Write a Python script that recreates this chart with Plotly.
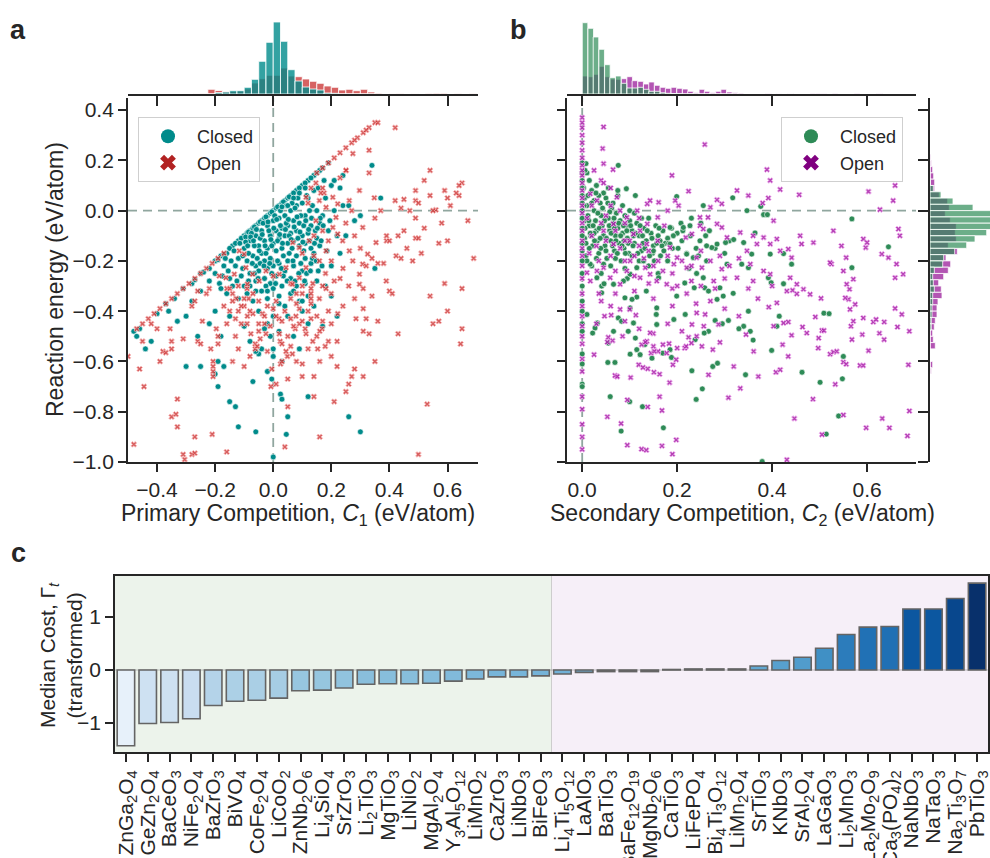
import plotly.graph_objects as go
from plotly.colors import sample_colorscale, sequential

# ---------------- DATA ----------------
# Panel a: (C1, reaction energy) for closed and open systems
A_CLOSED = [
    [-0.46,-0.47],[-0.4,-0.41],[-0.37,-0.37],[-0.34,-0.35],[-0.31,-0.31],[-0.28,-0.29],[-0.25,-0.25],[-0.22,-0.23],
    [-0.2,-0.2],[-0.18,-0.18],[-0.16,-0.17],[-0.14,-0.14],[-0.12,-0.12],[-0.1,-0.1],[-0.09,-0.09],[-0.08,-0.08],
    [-0.07,-0.07],[-0.06,-0.06],[-0.05,-0.05],[-0.04,-0.04],[-0.03,-0.03],[-0.02,-0.02],[-0.01,-0.01],[0.0,0.0],
    [0.01,0.01],[0.02,0.02],[0.03,0.03],[0.04,0.04],[0.05,0.05],[0.06,0.06],[0.08,0.08],[0.1,0.1],[0.12,0.12],
    [0.14,0.14],[0.16,0.16],[0.19,0.19],
    [-0.15,-0.15],[-0.13,-0.13],[-0.11,-0.11],[-0.085,-0.085],[-0.065,-0.065],[-0.045,-0.045],[-0.025,-0.025],
    [-0.005,-0.005],[0.015,0.015],[0.035,0.035],[0.055,0.055],[0.07,0.07],[0.09,0.09],[0.11,0.11],[0.13,0.13],
    [0.15,0.15],[0.17,0.17],[-0.17,-0.175],[-0.19,-0.195],[-0.24,-0.245],[-0.27,-0.275],
    [-0.1,-0.15],[-0.08,-0.12],[-0.06,-0.1],[-0.05,-0.14],[-0.04,-0.08],[-0.03,-0.12],[-0.02,-0.06],[-0.01,-0.1],
    [0.0,-0.04],[0.01,-0.08],[0.02,-0.03],[0.03,-0.07],[0.04,-0.02],[0.05,-0.06],[0.06,0.0],[0.07,-0.04],[0.08,0.02],
    [0.09,-0.05],[0.1,0.03],[0.11,-0.02],[0.12,0.05],[0.13,-0.06],[0.14,0.08],[0.15,0.0],
    [-0.09,-0.2],[-0.07,-0.18],[-0.06,-0.22],[-0.04,-0.17],[-0.03,-0.2],[-0.02,-0.15],[-0.01,-0.19],[0.0,-0.13],
    [0.01,-0.16],[0.02,-0.11],[0.03,-0.15],[0.04,-0.1],[0.05,-0.13],[0.06,-0.09],[0.07,-0.12],[0.08,-0.08],
    [0.09,-0.14],[0.1,-0.1],[0.11,-0.13],[0.12,-0.09],[0.13,-0.15],[0.15,-0.11],[0.16,-0.05],[0.17,-0.02],
    [0.18,0.05],[0.2,0.1],
    [-0.11,-0.26],[-0.1,-0.3],[-0.08,-0.25],[-0.06,-0.28],[-0.05,-0.24],[-0.03,-0.27],[-0.02,-0.23],[-0.01,-0.29],
    [0.0,-0.22],[0.01,-0.26],[0.02,-0.21],[0.03,-0.3],[0.04,-0.24],[0.05,-0.2],[0.06,-0.27],[0.07,-0.22],
    [0.08,-0.18],[0.1,-0.24],[0.11,-0.19],[0.13,-0.21],[0.14,-0.17],[0.16,-0.14],
    [-0.13,-0.22],[-0.12,-0.19],[-0.14,-0.3],[-0.15,-0.27],[-0.16,-0.33],[-0.12,-0.35],[-0.09,-0.33],[-0.07,-0.36],
    [-0.04,-0.32],[-0.02,-0.35],[0.0,-0.31],[0.02,-0.34],[0.04,-0.38],[0.06,-0.33],[0.08,-0.3],[0.09,-0.36],
    [0.11,-0.29],[0.12,-0.34],[0.15,-0.28],
    [-0.095,-0.105],[-0.085,-0.17],[-0.075,-0.09],[-0.065,-0.14],[-0.055,-0.19],[-0.045,-0.11],[-0.035,-0.05],
    [-0.025,-0.17],[-0.015,-0.08],[-0.005,-0.14],[0.005,-0.02],[0.015,-0.12],[0.025,-0.06],[0.035,-0.18],
    [0.045,-0.05],[0.055,-0.1],[0.065,-0.15],[0.075,0.01],[0.085,-0.11],[0.095,-0.02],[0.105,-0.16],[0.115,0.06],
    [0.125,-0.12],[0.135,0.02],[0.145,-0.08],[0.155,0.09],[0.165,-0.12],[0.175,0.12],
    [-0.105,-0.23],[-0.085,-0.28],[-0.065,-0.25],[-0.045,-0.21],[-0.025,-0.3],[-0.005,-0.25],[0.015,-0.2],
    [0.035,-0.26],[0.055,-0.17],[0.075,-0.28],[0.095,-0.21],[0.115,-0.25],[0.135,-0.19],[0.155,-0.24],
    [0.105,-0.06],[0.125,0.0],[0.085,0.05],[0.045,0.02],[0.065,0.03],[0.025,0.0],[-0.115,-0.13],[-0.105,-0.18],
    [-0.125,-0.28],[-0.135,-0.16],[-0.145,-0.2],[-0.155,-0.24],[-0.165,-0.19],[-0.175,-0.26],[-0.185,-0.29],
    [-0.095,-0.125],[-0.088,-0.14],[-0.078,-0.105],[-0.068,-0.12],[-0.058,-0.075],[-0.048,-0.16],[-0.038,-0.095],
    [-0.028,-0.14],[-0.018,-0.045],[-0.008,-0.115],[0.002,-0.07],[0.012,-0.035],[0.022,-0.095],[0.032,-0.13],
    [0.042,-0.075],[0.052,-0.035],[0.062,-0.115],[0.072,-0.065],[0.082,-0.025],[0.092,-0.085],[0.102,-0.125],
    [0.112,-0.04],[0.122,-0.075],[0.132,-0.03],[0.142,-0.13],[0.152,-0.07],[0.162,-0.03],[0.172,-0.06],
    [0.05,0.02],[0.07,0.05],[0.09,0.07],[0.11,0.09],[0.03,0.015],[-0.072,-0.21],[-0.052,-0.27],[-0.032,-0.22],
    [-0.012,-0.21],[0.008,-0.29],[0.028,-0.23],[0.048,-0.28],[0.068,-0.2],[0.088,-0.25],[0.108,-0.28],
    [0.128,-0.24],[0.148,-0.2],[0.168,-0.22],[0.185,-0.16],[0.195,-0.04],[-0.08,-0.3],[-0.06,-0.32],
    [-0.02,-0.32],[0.02,-0.37],[0.07,-0.32],[0.1,-0.36],
    [-0.05,-0.4],[0.0,-0.42],[-0.02,-0.45],[0.05,-0.42],[0.1,-0.4],[0.14,-0.38],[0.18,-0.3],[0.2,-0.22],
    [0.22,-0.1],[0.19,-0.08],[0.21,0.0],[0.24,0.02],[0.23,-0.17],
    [-0.25,-0.32],[-0.28,-0.36],[-0.22,-0.28],[-0.3,-0.42],[-0.33,-0.44],[-0.36,-0.4],[-0.42,-0.52],[-0.44,-0.55],
    [-0.2,-0.25],[-0.18,-0.31],[-0.17,-0.22],[-0.2,-0.4],[-0.22,-0.45],[-0.15,-0.42],[-0.18,-0.5],[-0.26,-0.5],
    [-0.25,-0.62],[-0.19,-0.6],[-0.2,-0.65],[-0.17,-0.62],[-0.19,-0.7],[-0.15,-0.76],[-0.13,-0.78],[-0.12,-0.86],
    [-0.06,-0.88],[-0.07,-0.68],[-0.02,-0.64],[-0.005,-0.67],[0.0,-0.55],[0.0,-0.58],[-0.01,-0.5],[-0.05,-0.57],
    [-0.06,-0.56],[-0.04,-0.55],[0.02,-0.48],[0.03,-0.6],[0.025,-0.73],[0.03,-0.75],[0.05,-0.82],[0.045,-0.89],
    [0.0,-0.98],[0.12,-0.74],[0.26,-0.82],[0.3,-0.88],[0.07,-0.5],[0.12,-0.45],[0.09,-0.55],[-0.08,-0.52],
    [-0.1,-0.46],[-0.03,-0.47],[-0.48,-0.48],[-0.47,-0.5],[-0.3,-0.62],
    [0.34,0.18],[0.37,0.05],[0.35,-0.23],[0.3,-0.02],[0.28,-0.04],[0.26,0.02],[0.23,0.09],[0.25,-0.1],
    [0.2,-0.34],[0.22,-0.42],[0.17,-0.46],[0.24,0.14],[0.21,0.12],
]
A_OPEN = [
    [-0.47,-0.47],[-0.45,-0.45],[-0.43,-0.43],[-0.41,-0.41],[-0.39,-0.39],[-0.37,-0.37],[-0.35,-0.35],[-0.33,-0.33],
    [-0.31,-0.31],[-0.29,-0.29],[-0.27,-0.27],[-0.25,-0.25],[-0.23,-0.23],[-0.21,-0.21],[-0.19,-0.19],[-0.17,-0.17],
    [0.15,0.15],[0.17,0.17],[0.19,0.19],[0.21,0.21],[0.23,0.23],[0.25,0.25],[0.27,0.27],[0.29,0.29],[0.31,0.31],
    [0.33,0.33],[0.35,0.35],[0.36,0.35],[0.28,0.28],[0.32,0.32],
    [0.42,0.33],[0.33,0.24],[0.25,0.16],[0.33,0.15],[0.54,0.16],[0.52,0.12],[0.65,0.11],[0.64,0.1],[0.59,0.08],
    [0.49,0.04],[0.42,0.04],[0.45,0.045],[0.47,0.0],[0.56,0.003],[0.5,0.03],[0.61,0.02],[0.67,-0.04],[0.58,-0.05],
    [0.49,-0.03],[0.52,-0.07],[0.45,-0.08],[0.49,-0.11],[0.5,-0.11],[0.43,-0.1],[0.46,-0.15],[0.51,-0.17],
    [0.39,-0.1],[0.39,-0.12],[0.35,-0.03],[0.36,-0.21],[0.38,-0.21],[0.44,-0.19],[0.69,-0.19],[0.59,-0.29],
    [0.65,-0.31],[0.49,0.08],[0.54,0.06],[0.64,0.06],[0.6,0.05],[0.63,0.07],[0.55,0.0],[0.44,0.01],[0.57,-0.13],
    [0.48,-0.2],[0.6,-0.12],
    [0.54,-0.34],[0.6,-0.4],[0.57,-0.44],[0.55,-0.45],[0.65,-0.47],[0.645,-0.53],[0.43,-0.49],[0.53,-0.77],
    [0.5,-0.97],[0.4,-0.32],[0.41,-0.33],[0.36,-0.44],[0.35,-0.6],[0.33,-0.49],[0.31,-0.48],[0.32,-0.43],
    [0.285,-0.43],[0.28,-0.35],[0.31,-0.39],[0.34,-0.34],[0.31,-0.66],[0.27,-0.66],[0.28,-0.63],[0.26,-0.69],
    [0.25,-0.72],[0.22,-0.62],[0.21,-0.76],[0.22,-0.52],[0.16,-0.9],[0.14,-0.74],[0.1,-0.66],[0.1,-0.61],
    [0.05,-0.78],[0.04,-0.94],[0.01,-0.69],[-0.008,-0.7],[-0.005,-0.63],[0.025,-0.61],[0.03,-0.6],
    [-0.46,-0.63],[-0.45,-0.52],[-0.445,-0.7],[-0.48,-0.93],[-0.33,-0.75],[-0.35,-0.82],[-0.335,-0.81],
    [-0.33,-0.86],[-0.27,-0.9],[-0.31,-0.97],[-0.305,-0.99],[-0.28,-0.97],[-0.27,-0.965],[-0.21,-0.89],
    [-0.16,-0.96],[-0.39,-0.6],[-0.38,-0.56],[-0.37,-0.565],[-0.35,-0.55],[-0.355,-0.47],[-0.35,-0.52],
    [-0.31,-0.51],[-0.26,-0.52],[-0.25,-0.53],[-0.215,-0.55],[-0.207,-0.6],[-0.207,-0.62],[-0.207,-0.64],
    [-0.207,-0.66],[-0.19,-0.53],[-0.19,-0.5],[-0.196,-0.47],[-0.244,-0.44],[-0.27,-0.36],[-0.28,-0.38],
    [-0.26,-0.32],[-0.23,-0.33],[-0.22,-0.31],[-0.5,-0.58],[-0.42,-0.45],[-0.4,-0.47],
    [-0.16,-0.31],[-0.15,-0.31],[-0.127,-0.35],[-0.09,-0.31],[-0.085,-0.35],[-0.089,-0.42],[-0.077,-0.49],
    [-0.062,-0.53],[-0.062,-0.55],[-0.055,-0.54],[-0.045,-0.51],[-0.025,-0.49],[-0.05,-0.45],[-0.03,-0.45],
    [-0.037,-0.41],[-0.02,-0.38],[0.0,-0.39],[0.021,-0.49],[0.024,-0.52],[0.044,-0.56],[0.049,-0.58],
    [0.066,-0.57],[0.06,-0.54],[0.076,-0.47],[0.09,-0.45],[0.1,-0.44],[0.113,-0.49],[0.136,-0.52],[0.153,-0.55],
    [0.179,-0.54],[0.19,-0.52],[0.136,-0.29],[0.13,-0.31],[0.13,-0.33],[0.13,-0.35],[0.13,-0.37],[0.159,-0.35],
    [0.182,-0.31],[0.2,-0.33],[0.222,-0.41],[0.168,-0.47],[0.16,-0.48],[0.078,-0.42],[0.06,-0.43],[0.04,-0.4],
    [0.02,-0.43],[0.01,-0.42],[-0.1,-0.38],[-0.12,-0.4],[-0.14,-0.36],[-0.11,-0.45],[-0.13,-0.5],[-0.16,-0.45],
    [-0.17,-0.38],[-0.05,-0.36],[-0.07,-0.33],[0.06,-0.35],[0.08,-0.37],[0.1,-0.33],[0.12,-0.4],[0.15,-0.42],
    [0.19,-0.4],[0.2,-0.45],[0.24,-0.38],[0.26,-0.3],[0.23,-0.27],
    [-0.15,-0.4],[-0.13,-0.43],[-0.11,-0.38],[-0.09,-0.45],[-0.07,-0.41],[-0.05,-0.48],[-0.03,-0.42],[-0.01,-0.46],
    [0.01,-0.36],[0.03,-0.44],[0.05,-0.5],[0.07,-0.46],[0.09,-0.39],[0.11,-0.47],[0.13,-0.43],[0.15,-0.5],
    [0.17,-0.44],[0.1,-0.3],[0.08,-0.33],[0.06,-0.29],[0.17,-0.3],[0.21,-0.28],[0.18,-0.25],[-0.12,-0.3],
    [-0.14,-0.33],[-0.1,-0.35],[-0.08,-0.4],[0.12,-0.55],[0.08,-0.6],[0.03,-0.53],[-0.02,-0.56],[-0.08,-0.58],
    [-0.12,-0.55],[0.16,-0.6],[0.2,-0.58],[0.14,-0.66],[-0.1,-0.62],[-0.14,-0.6],[0.05,-0.67],
    [0.13,0.09],[0.147,0.11],[0.17,0.09],[0.175,0.07],[0.164,0.07],[0.159,0.04],[0.182,0.013],[0.205,0.053],
    [0.222,0.027],[0.216,-0.027],[0.205,-0.067],[0.222,-0.093],[0.239,-0.12],[0.262,-0.16],[0.274,-0.2],
    [0.297,-0.253],[0.308,-0.213],[0.325,-0.173],[0.34,-0.19],[0.32,-0.22],[0.182,-0.16],[0.159,-0.2],
    [0.14,-0.18],[0.113,-0.227],[0.09,-0.267],[0.066,-0.293],[0.044,-0.227],[0.021,-0.253],[0.0,-0.26],
    [-0.025,-0.24],[-0.048,-0.28],[-0.071,-0.253],[-0.089,-0.293],[-0.094,-0.227],[-0.1,-0.173],[-0.117,-0.16],
    [-0.134,-0.253],[-0.163,-0.267],[-0.186,-0.26],[0.113,0.053],[0.12,0.03],[0.147,-0.04],[0.17,-0.08],
    [0.124,-0.12],[0.09,-0.147],[0.1,-0.17],[0.14,-0.1],[0.067,-0.127],[0.251,0.16],[0.274,0.227],[0.23,0.13],
    [0.297,0.08],[0.262,0.04],[0.348,0.051],[0.37,0.0],[0.308,-0.067],[0.354,-0.127],[0.4,-0.12],[0.423,-0.18],
    [0.389,-0.28],[0.297,-0.293],[0.31,-0.31],[0.28,-0.1],[0.25,-0.05],[0.27,0.0],[0.3,-0.15],[0.2,-0.2],
    [0.19,-0.12],[0.24,-0.23],
]

# Panel b: (C2, reaction energy)
B_CLOSED = [
    [0.005,0.05],[0.01,0.02],[0.012,-0.02],[0.015,-0.06],[0.018,-0.1],[0.02,0.08],[0.022,-0.14],[0.025,0.0],
    [0.028,-0.04],[0.03,-0.08],[0.032,-0.12],[0.035,-0.17],[0.038,0.03],[0.04,-0.02],[0.042,-0.06],[0.045,-0.1],
    [0.048,-0.14],[0.05,0.05],[0.052,-0.19],[0.055,-0.03],[0.058,-0.08],[0.06,-0.12],[0.062,0.01],[0.065,-0.05],
    [0.068,-0.16],[0.07,-0.1],[0.072,-0.01],[0.075,-0.07],[0.078,-0.13],[0.08,-0.04],[0.082,-0.2],[0.085,-0.09],
    [0.088,-0.15],[0.09,-0.02],[0.092,-0.06],[0.095,-0.11],[0.098,-0.17],[0.1,-0.04],[0.105,-0.08],[0.11,-0.13],
    [0.115,-0.05],[0.12,-0.1],[0.125,-0.16],[0.13,-0.07],[0.135,-0.12],[0.14,-0.03],[0.145,-0.09],[0.15,-0.14],
    [0.155,-0.06],[0.16,-0.1],[0.165,-0.18],[0.17,-0.08],[0.175,-0.13],[0.18,-0.11],[0.19,-0.15],[0.2,-0.09],
    [0.21,-0.12],[0.22,-0.17],[0.015,0.12],[0.03,0.1],[0.01,0.15],[0.02,-0.22],[0.04,-0.25],[0.06,-0.22],
    [0.008,-0.18],[0.045,0.07],[0.065,0.03],[0.085,0.02],[0.1,0.0],[0.11,-0.01],[0.075,0.06],[0.055,0.09],
    [0.035,0.06],[0.025,-0.09],[0.015,-0.15],[0.005,-0.11],[0.005,-0.04],[0.003,0.09],[0.03,-0.19],[0.05,-0.16],
    [0.07,-0.19],[0.09,-0.23],[0.12,-0.2],[0.14,-0.22],[0.16,-0.25],[0.18,-0.2],[0.105,-0.18],[0.125,-0.03],
    [0.095,-0.27],[0.025,0.04],[0.058,-0.005],[0.038,-0.11],[0.068,-0.07],[0.088,-0.12],[0.108,-0.1],
    [0.128,-0.13],[0.148,-0.17],[0.168,-0.14],[0.188,-0.07],[0.208,-0.05],[0.228,-0.1],[0.248,-0.12],
    [0.268,-0.08],[0.245,-0.18],[0.225,-0.23],[0.262,-0.2],[0.28,-0.15],[0.3,-0.17],[0.31,-0.12],
    [0.004,0.02],[0.006,-0.07],[0.008,-0.13],[0.012,0.06],[0.014,-0.04],[0.017,-0.09],[0.02,0.03],[0.023,-0.06],
    [0.026,-0.12],[0.029,0.07],[0.033,-0.01],[0.036,-0.07],[0.039,-0.15],[0.043,0.01],[0.047,-0.04],[0.051,-0.11],
    [0.054,0.03],[0.057,-0.06],[0.061,-0.09],[0.064,-0.14],[0.067,-0.03],[0.071,-0.12],[0.074,-0.17],
    [0.077,-0.05],[0.081,-0.1],[0.084,-0.14],[0.087,-0.06],[0.091,-0.17],[0.094,-0.08],[0.097,-0.13],
    [0.102,-0.06],[0.107,-0.14],[0.112,-0.09],[0.117,-0.17],[0.122,-0.06],[0.127,-0.1],[0.132,-0.15],
    [0.137,-0.08],[0.142,-0.18],[0.147,-0.11],[0.152,-0.2],[0.157,-0.13],[0.162,-0.07],[0.172,-0.16],
    [0.182,-0.13],[0.192,-0.1],[0.202,-0.15],[0.212,-0.08],[0.24,-0.15],[0.26,-0.1],[0.25,-0.05],[0.23,-0.03],
    [0.076,0.18],[0.008,0.187],[0.006,0.16],[0.112,0.06],[0.093,0.087],[0.075,0.08],[0.199,0.056],[0.255,0.02],
    [0.317,0.051],[0.347,0.0],[0.376,0.017],[0.382,-0.016],[0.39,-0.016],[0.568,-0.033],[0.645,-0.144],
    [0.568,-0.227],[0.424,-0.291],[0.364,-0.089],[0.34,-0.127],[0.319,-0.115],[0.302,-0.127],[0.284,-0.133],
    [0.273,-0.147],[0.262,-0.14],[0.305,-0.213],[0.336,-0.213],[0.357,-0.173],[0.396,-0.173],[0.392,-0.267],
    [0.441,-0.213],[0.424,-0.171],[0.255,-0.267],[0.241,-0.25],[0.234,-0.187],[0.22,-0.173],[0.213,-0.067],
    [0.227,-0.06],[0.185,-0.067],[0.164,-0.12],[0.185,-0.133],[0.15,-0.16],[0.129,-0.2],[0.115,-0.227],
    [0.101,-0.253],[0.087,-0.28],[0.066,-0.293],[0.041,-0.3],[0.031,-0.267],[0.045,-0.213],[0.017,-0.213],
    [0.01,-0.2],[0.161,-0.267],[0.216,-0.288],[0.258,-0.307],[0.29,-0.307],[0.35,-0.227],
    [0.046,-0.291],[0.041,-0.327],[0.01,-0.413],[0.027,-0.467],[0.022,-0.487],[0.032,-0.447],[0.055,-0.527],
    [0.066,-0.48],[0.076,-0.427],[0.083,-0.44],[0.108,-0.447],[0.101,-0.387],[0.097,-0.48],[0.112,-0.507],
    [0.115,-0.553],[0.101,-0.571],[0.122,-0.573],[0.132,-0.533],[0.147,-0.587],[0.157,-0.453],[0.156,-0.413],
    [0.17,-0.567],[0.185,-0.553],[0.188,-0.584],[0.054,-0.604],[0.069,-0.604],[0.059,-0.74],[0.1,-0.76],
    [0.127,-0.78],[0.082,-0.877],[0.171,-0.864],[0.231,-0.637],[0.24,-0.751],[0.253,-0.709],[0.275,-0.62],
    [0.285,-0.607],[0.344,-0.653],[0.399,-0.556],[0.36,-0.515],[0.354,-0.48],[0.34,-0.46],[0.33,-0.47],
    [0.308,-0.437],[0.295,-0.45],[0.28,-0.437],[0.266,-0.48],[0.257,-0.487],[0.238,-0.513],[0.463,-0.643],
    [0.501,-0.683],[0.548,-0.669],[0.55,-0.58],[0.54,-0.817],[0.514,-0.889],[0.379,-0.998],[0.509,-0.408],
    [0.52,-0.41],[0.398,-0.287],[0.415,-0.42],[0.41,-0.46],[0.35,-0.4],[0.318,-0.329],[0.297,-0.34],
    [0.284,-0.353],[0.266,-0.32],[0.236,-0.307],[0.217,-0.413],[0.199,-0.34],[0.193,-0.433],[0.157,-0.387],
    [0.135,-0.32],[0.115,-0.344],[0.105,-0.353],[0.09,-0.347],
    [0.0,0.19],[0.0,0.15],[0.0,0.12],[0.0,0.09],[0.0,0.06],[0.0,0.03],[0.0,0.0],[0.0,-0.03],[0.0,-0.07],
    [0.0,-0.1],[0.0,-0.13],[0.0,-0.16],[0.0,-0.2],[0.0,-0.25],[0.0,-0.3],[0.0,-0.36],[0.0,-0.4],[0.0,-0.45],
    [0.0,-0.48],[0.0,-0.57],[0.0,-0.61],[0.0,-0.69],[0.0,-0.7],
]
B_OPEN = [
    [0.0,0.37],[0.0,0.35],[0.0,0.33],[0.0,0.3],[0.0,0.27],[0.0,0.24],[0.0,0.21],[0.0,0.18],[0.0,0.16],[0.0,0.14],
    [0.0,0.11],[0.0,0.08],[0.0,0.05],[0.0,0.02],[0.0,-0.01],[0.0,-0.05],[0.0,-0.08],[0.0,-0.12],[0.0,-0.15],
    [0.0,-0.18],[0.0,-0.22],[0.0,-0.27],[0.0,-0.33],[0.0,-0.38],[0.0,-0.42],[0.0,-0.46],[0.0,-0.5],[0.0,-0.53],
    [0.0,-0.59],[0.0,-0.64],[0.0,-0.74],[0.0,-0.79],[0.0,-0.85],[0.0,-0.9],[0.0,-0.95],
    [0.045,0.333],[0.043,0.247],[0.045,0.187],[0.065,0.163],[0.025,0.16],[0.04,0.12],[0.045,0.11],[0.06,0.09],
    [0.258,0.263],[0.189,0.14],[0.224,0.077],[0.326,0.08],[0.35,0.06],[0.389,0.163],[0.396,0.12],[0.417,0.084],
    [0.457,0.063],[0.392,0.05],[0.38,0.03],[0.284,0.043],[0.294,0.027],[0.27,0.013],[0.603,0.076],[0.659,0.1],
    [0.655,0.04],[0.627,0.004],[0.196,0.04],[0.203,0.02],[0.161,0.033],[0.18,0.0],[0.248,-0.027],[0.265,-0.027],
    [0.248,-0.06],[0.255,-0.073],[0.284,-0.053],[0.294,-0.067],[0.305,-0.107],[0.333,-0.087],[0.347,-0.16],
    [0.36,-0.1],[0.368,-0.133],[0.382,-0.107],[0.396,-0.133],[0.403,-0.04],[0.41,-0.113],[0.417,-0.16],
    [0.434,-0.153],[0.441,-0.187],[0.459,-0.1],[0.462,-0.133],[0.487,-0.127],[0.525,-0.213],[0.529,-0.08],
    [0.546,-0.14],[0.556,-0.187],[0.592,-0.113],[0.6,-0.127],[0.597,-0.147],[0.631,-0.173],[0.645,-0.187],
    [0.666,-0.073],[0.669,-0.1],[0.662,-0.213],[0.676,-0.253],[0.659,-0.267],[0.571,-0.273],[0.557,-0.293],
    [0.55,-0.24],[0.522,-0.207],[0.452,-0.293],[0.438,-0.267],[0.396,-0.253],[0.382,-0.24],[0.354,-0.213],
    [0.326,-0.267],[0.294,-0.233],[0.277,-0.28],[0.252,-0.227],[0.241,-0.187],[0.22,-0.227],[0.2,-0.187],
    [0.193,-0.213],[0.178,-0.293],[0.157,-0.28],[0.143,-0.253],[0.122,-0.267],[0.133,-0.227],[0.101,-0.2],
    [0.094,-0.24],[0.08,-0.293],[0.059,-0.267],[0.045,-0.227],[0.031,-0.24],[0.017,-0.28],[0.01,-0.247],
    [0.066,-0.133],[0.09,-0.12],[0.108,-0.093],[0.122,-0.08],[0.137,-0.053],[0.159,-0.027],[0.173,-0.06],
    [0.137,0.027],[0.116,0.0],[0.08,0.0],[0.06,0.02],[0.031,0.04],[0.017,0.067],[0.073,0.053],[0.143,0.04],
    [0.094,-0.027],[0.066,-0.053],[0.045,-0.08],[0.136,-0.133],[0.185,-0.147],[0.218,-0.107],[0.231,-0.093],
    [0.159,-0.12],
    [0.01,-0.03],[0.02,-0.1],[0.03,-0.14],[0.04,-0.05],[0.05,-0.12],[0.06,-0.18],[0.07,-0.08],[0.08,-0.15],
    [0.09,-0.2],[0.1,-0.12],[0.11,-0.18],[0.12,-0.14],[0.13,-0.19],[0.14,-0.16],[0.15,-0.22],[0.16,-0.2],
    [0.17,-0.24],[0.18,-0.18],[0.19,-0.25],[0.21,-0.2],[0.23,-0.22],[0.25,-0.16],[0.27,-0.2],[0.29,-0.18],
    [0.31,-0.22],[0.33,-0.19],[0.02,0.02],[0.05,-0.02],[0.09,-0.05],[0.12,-0.03],[0.015,-0.17],[0.035,-0.2],
    [0.07,-0.24],[0.11,-0.26],[0.14,-0.29],[0.19,-0.31],[0.23,-0.28],[0.3,-0.27],[0.36,-0.28],[0.035,-0.33],
    [0.06,-0.38],[0.09,-0.44],[0.12,-0.47],[0.18,-0.45],[0.21,-0.48],[0.24,-0.37],
    [0.053,-0.82],[0.082,-0.847],[0.095,-0.933],[0.125,-0.949],[0.135,-0.953],[0.168,-0.936],[0.19,-0.969],
    [0.198,-0.912],[0.168,-0.795],[0.163,-0.74],[0.138,-0.781],[0.095,-0.753],[0.073,-0.66],[0.069,-0.656],
    [0.102,-0.664],[0.119,-0.613],[0.128,-0.624],[0.138,-0.629],[0.151,-0.643],[0.163,-0.651],[0.184,-0.684],
    [0.191,-0.613],[0.198,-0.593],[0.183,-0.529],[0.17,-0.533],[0.15,-0.489],[0.136,-0.52],[0.125,-0.533],
    [0.145,-0.567],[0.16,-0.56],[0.178,-0.567],[0.2,-0.547],[0.216,-0.547],[0.219,-0.54],[0.224,-0.504],
    [0.241,-0.5],[0.252,-0.54],[0.23,-0.527],[0.241,-0.407],[0.259,-0.413],[0.231,-0.453],[0.256,-0.46],
    [0.287,-0.453],[0.29,-0.524],[0.275,-0.553],[0.266,-0.653],[0.319,-0.62],[0.308,-0.744],[0.333,-0.707],
    [0.345,-0.493],[0.361,-0.56],[0.371,-0.66],[0.408,-0.643],[0.417,-0.633],[0.422,-0.533],[0.434,-0.58],
    [0.431,-0.991],[0.447,-0.827],[0.486,-0.75],[0.497,-0.547],[0.498,-0.507],[0.491,-0.423],[0.473,-0.487],
    [0.464,-0.463],[0.441,-0.496],[0.434,-0.443],[0.424,-0.447],[0.403,-0.46],[0.393,-0.384],[0.41,-0.367],
    [0.431,-0.32],[0.443,-0.317],[0.452,-0.331],[0.466,-0.313],[0.48,-0.333],[0.503,-0.349],[0.505,-0.477],
    [0.509,-0.477],[0.522,-0.571],[0.529,-0.563],[0.536,-0.56],[0.55,-0.603],[0.556,-0.611],[0.585,-0.616],
    [0.592,-0.616],[0.533,-0.691],[0.55,-0.813],[0.505,-0.891],[0.598,-0.864],[0.632,-0.827],[0.647,-0.864],
    [0.685,-0.896],[0.687,-0.613],[0.689,-0.797],[0.603,-0.557],[0.59,-0.493],[0.568,-0.513],[0.566,-0.46],
    [0.571,-0.44],[0.564,-0.393],[0.561,-0.353],[0.563,-0.313],[0.554,-0.347],[0.575,-0.373],[0.592,-0.427],
    [0.613,-0.443],[0.619,-0.433],[0.626,-0.488],[0.636,-0.443],[0.636,-0.513],[0.659,-0.389],[0.673,-0.413],
    [0.664,-0.463],[0.689,-0.48],[0.053,-0.523],[0.055,-0.504],[0.064,-0.517],[0.025,-0.573],[0.074,-0.66],
    [0.047,-0.42],[0.061,-0.416],[0.08,-0.393],[0.1,-0.393],[0.113,-0.416],[0.143,-0.486],[0.133,-0.523],
    [0.15,-0.54],[0.152,-0.56],[0.085,-0.5],[0.03,-0.45],[0.04,-0.36],[0.07,-0.33],[0.11,-0.32],[0.15,-0.35],
    [0.19,-0.38],[0.22,-0.33],[0.27,-0.36],[0.3,-0.39],[0.33,-0.42],[0.37,-0.35],[0.35,-0.31],[0.4,-0.3],
    [0.28,-0.31],[0.25,-0.3],[0.2,-0.3],
]

# Marginal histograms (bin centres and bar heights)
A_HIST_X = [-0.2625,-0.2375,-0.2125,-0.1875,-0.1625,-0.1375,-0.1125,-0.0875,-0.0625,-0.0375,-0.0125,0.0125,
            0.0375,0.0625,0.0875,0.1125,0.1375,0.1625,0.1875,0.2125,0.2375,0.2625,0.2875,0.3125,0.3375,0.3625,
            0.3875,0.4125,0.4375,0.4625,0.4875,0.5125,0.5375,0.5625,0.5875,0.6125,0.6375,0.6625,0.6875]
A_HIST_CLOSED = [0,0,0,1.5,2,3.3,3.3,6.7,14.7,32.7,51.7,72,52.7,24.3,13,7,5,4,1,0.7,0,0,0,0,0,0,
                 0,0,0,0,0,0,0,0,0,0,0,0,0]
A_HIST_OPEN = [0.5,0.7,4.7,3.5,2.5,2.5,3,5,11,15.3,18.7,18.7,26,18,17.3,15,12.7,10.7,8,6.7,4,4.7,3.3,4.7,2,1,
               0,0.5,0.7,0,0.5,0,0.8,1,1,0,0.7,0,0.7]

B_HIST_X = [0.006,0.018,0.029,0.041,0.053,0.064,0.076,0.088,0.100,0.111,0.123,0.135,0.146,0.158,0.170,0.181,
            0.193,0.205,0.217,0.228,0.240,0.252,0.263,0.275,0.287,0.298,0.310,0.322,0.334,
            0.392,0.415,0.439,0.486,0.497,0.509,0.532,0.579,0.626]
B_HIST_CLOSED = [71.3,65.7,57,44.7,29.3,16.3,18,10.7,6,6,6.7,4.7,2.7,2.7,1.3,0.7,0.5,0.3,0,0.3,0,0,0,0,0,0,0,0,0,
                 0,0,0,0,0,0,0,0,0]
B_HIST_OPEN = [18,17.3,19.7,27.7,17.3,15,14.7,15.3,17.3,13.3,12.7,10,12,8.7,6.7,5.7,6.7,5.7,5,2.7,1.3,4.7,2.7,
               1.3,2.7,4.7,2,1.3,1,0.7,0.5,0.5,0.8,0.8,0.7,0.8,0.8,0.7]

R_HIST_Y = [0.2125,0.1875,0.1625,0.1375,0.1125,0.0875,0.0625,0.0375,0.0125,-0.0125,-0.0375,-0.0625,-0.0875,
            -0.1125,-0.1375,-0.1625,-0.1875,-0.2125,-0.2375,-0.2625,-0.2875,-0.3125,-0.3375,-0.3625,-0.3875,
            -0.4125,-0.4375,-0.4625,-0.4875,-0.5125,-0.5375,-0.5625,-0.5875,-0.6125,-0.6375]
R_HIST_CLOSED = [0,0,0,0,0.5,3.3,11,23,43,64,68,61,56.7,45,36.7,24.7,13.7,12.7,4.3,2.7,3.3,4.3,2.7,2.7,2,2,1.3,
                 1.3,0,0,0,0,0,0,0]
R_HIST_OPEN = [1,1.3,2.7,3.7,4.7,4.7,9.3,17.7,19.3,15.3,20.3,26.3,25.3,26.3,18.3,27.3,16,20.7,18.3,13.7,8.7,11.3,
               12,8,7,7,5.3,4.3,2.7,3.3,5.3,0,0,2.7,1.3]

# Panel c: median cost per target
COMPOUNDS = ["ZnGa<sub>2</sub>O<sub>4</sub>", "GeZn<sub>2</sub>O<sub>4</sub>", "BaCeO<sub>3</sub>",
             "NiFe<sub>2</sub>O<sub>4</sub>", "BaZrO<sub>3</sub>", "BiVO<sub>4</sub>", "CoFe<sub>2</sub>O<sub>4</sub>",
             "LiCoO<sub>2</sub>", "ZnNb<sub>2</sub>O<sub>6</sub>", "Li<sub>4</sub>SiO<sub>4</sub>", "SrZrO<sub>3</sub>",
             "Li<sub>2</sub>TiO<sub>3</sub>", "MgTiO<sub>3</sub>", "LiNiO<sub>2</sub>", "MgAl<sub>2</sub>O<sub>4</sub>",
             "Y<sub>3</sub>Al<sub>5</sub>O<sub>12</sub>", "LiMnO<sub>2</sub>", "CaZrO<sub>3</sub>", "LiNbO<sub>3</sub>",
             "BiFeO<sub>3</sub>", "Li<sub>4</sub>Ti<sub>5</sub>O<sub>12</sub>", "LaAlO<sub>3</sub>", "BaTiO<sub>3</sub>",
             "BaFe<sub>12</sub>O<sub>19</sub>", "MgNb<sub>2</sub>O<sub>6</sub>", "CaTiO<sub>3</sub>",
             "LiFePO<sub>4</sub>", "Bi<sub>4</sub>Ti<sub>3</sub>O<sub>12</sub>", "LiMn<sub>2</sub>O<sub>4</sub>",
             "SrTiO<sub>3</sub>", "KNbO<sub>3</sub>", "SrAl<sub>2</sub>O<sub>4</sub>", "LaGaO<sub>3</sub>",
             "Li<sub>2</sub>MnO<sub>3</sub>", "La<sub>2</sub>Mo<sub>2</sub>O<sub>9</sub>",
             "Ca<sub>3</sub>(PO<sub>4</sub>)<sub>2</sub>", "NaNbO<sub>3</sub>", "NaTaO<sub>3</sub>",
             "Na<sub>2</sub>Ti<sub>3</sub>O<sub>7</sub>", "PbTiO<sub>3</sub>"]
MEDIAN_COST = [-1.43, -1.01, -0.99, -0.92, -0.67, -0.59, -0.57, -0.53, -0.39, -0.38, -0.34, -0.27, -0.26, -0.26,
               -0.25, -0.21, -0.17, -0.13, -0.13, -0.11, -0.075, -0.045, -0.03, -0.03, -0.03, 0.01, 0.02, 0.02,
               0.02, 0.075, 0.18, 0.24, 0.41, 0.67, 0.81, 0.82, 1.15, 1.15, 1.35, 1.64]
N_CLOSED_TARGETS = 20

# ---------------- STYLE ----------------
W, H = 990, 858
FONT = "Liberation Sans, Arial, Helvetica, sans-serif"
INK = "#262626"
TEAL, RED = "#008b8b", "#b22222"
GREEN, PURPLE = "#2e8b57", "#800080"
DASH = "rgba(125,150,142,0.85)"

def fx(p):
    return p / W

def fy(p):
    return 1 - p / H

def col(pts, i):
    return [p[i] for p in pts]

AX = dict(showline=True, linecolor=INK, linewidth=1.8, ticks="outside", ticklen=8, tickwidth=1.6,
          tickcolor=INK, showgrid=False, zeroline=False,
          tickfont=dict(family=FONT, size=21, color=INK))

A_XR = [-0.5, 0.705]
B_XR = [-0.032, 0.703]
YR = [-1.0, 0.448]
YTICKS = [-1.0, -0.8, -0.6, -0.4, -0.2, 0.0, 0.2, 0.4]

fig = go.Figure()

# ---- panel a scatter ----
fig.add_trace(go.Scatter(x=col(A_CLOSED, 0), y=col(A_CLOSED, 1), mode="markers", showlegend=False,
                         marker=dict(symbol="circle", size=5.8, color=TEAL, line=dict(color="white", width=0.6)),
                         xaxis="x", yaxis="y"))
fig.add_trace(go.Scatter(x=col(A_OPEN, 0), y=col(A_OPEN, 1), mode="markers", showlegend=False,
                         marker=dict(symbol="x", size=5, color="rgba(205,55,55,0.8)",
                                     line=dict(color="rgba(248,185,185,0.85)", width=1)),
                         xaxis="x", yaxis="y"))
fig.add_trace(go.Scatter(x=[None], y=[None], mode="markers", name="Closed", legend="legend",
                         marker=dict(symbol="circle", size=14, color=TEAL), xaxis="x", yaxis="y"))
fig.add_trace(go.Scatter(x=[None], y=[None], mode="markers", name="Open", legend="legend",
                         marker=dict(symbol="x", size=14, color=RED), xaxis="x", yaxis="y"))

# ---- panel a top histogram ----
fig.add_trace(go.Bar(x=A_HIST_X, y=A_HIST_OPEN, width=0.025, showlegend=False,
                     marker=dict(color="rgba(200,45,45,0.75)", line=dict(color="white", width=0.8)),
                     xaxis="x2", yaxis="y2"))
fig.add_trace(go.Bar(x=A_HIST_X, y=A_HIST_CLOSED, width=0.025, showlegend=False,
                     marker=dict(color="rgba(0,139,139,0.8)", line=dict(color="white", width=0.8)),
                     xaxis="x2", yaxis="y2"))

# ---- panel b scatter ----
fig.add_trace(go.Scatter(x=col(B_CLOSED, 0), y=col(B_CLOSED, 1), mode="markers", showlegend=False,
                         marker=dict(symbol="circle", size=5.8, color=GREEN, line=dict(color="white", width=0.6)),
                         xaxis="x3", yaxis="y3"))
fig.add_trace(go.Scatter(x=col(B_OPEN, 0), y=col(B_OPEN, 1), mode="markers", showlegend=False,
                         marker=dict(symbol="x", size=5, color="rgba(170,35,170,0.85)",
                                     line=dict(color="rgba(238,180,238,0.85)", width=1)),
                         xaxis="x3", yaxis="y3"))
fig.add_trace(go.Scatter(x=[None], y=[None], mode="markers", name="Closed", legend="legend2",
                         marker=dict(symbol="circle", size=14, color=GREEN), xaxis="x3", yaxis="y3"))
fig.add_trace(go.Scatter(x=[None], y=[None], mode="markers", name="Open", legend="legend2",
                         marker=dict(symbol="x", size=14, color=PURPLE), xaxis="x3", yaxis="y3"))

# ---- panel b top histogram ----
fig.add_trace(go.Bar(x=B_HIST_X, y=B_HIST_OPEN, width=0.0117, showlegend=False,
                     marker=dict(color="rgba(150,20,150,0.72)", line=dict(color="white", width=0.8)),
                     xaxis="x4", yaxis="y4"))
fig.add_trace(go.Bar(x=B_HIST_X, y=B_HIST_CLOSED, width=0.0117, showlegend=False,
                     marker=dict(color="rgba(46,139,87,0.7)", line=dict(color="white", width=0.8)),
                     xaxis="x4", yaxis="y4"))

# ---- panel b right histogram ----
fig.add_trace(go.Bar(y=R_HIST_Y, x=R_HIST_OPEN, orientation="h", width=0.025, showlegend=False,
                     marker=dict(color="rgba(150,20,150,0.72)", line=dict(color="white", width=0.8)),
                     xaxis="x5", yaxis="y5"))
fig.add_trace(go.Bar(y=R_HIST_Y, x=R_HIST_CLOSED, orientation="h", width=0.025, showlegend=False,
                     marker=dict(color="rgba(46,139,87,0.7)", line=dict(color="white", width=0.8)),
                     xaxis="x5", yaxis="y5"))

# ---- panel c bars ----
vmin, vmax = min(MEDIAN_COST), max(MEDIAN_COST)
bar_colors = sample_colorscale(sequential.Blues,
                               [0.08 + 0.92 * (v - vmin) / (vmax - vmin) for v in MEDIAN_COST])
idx = list(range(len(COMPOUNDS)))
fig.add_trace(go.Bar(x=idx, y=MEDIAN_COST, width=0.8, showlegend=False,
                     marker=dict(color=bar_colors, line=dict(color="rgb(100,100,100)", width=1.6)),
                     xaxis="x6", yaxis="y6"))

# ---------------- LAYOUT ----------------
main_y_dom = [fy(462), fy(98)]
top_y_dom = [fy(94), fy(12)]

fig.update_layout(
    width=W, height=H, autosize=False,
    margin=dict(l=0, r=0, t=0, b=0),
    paper_bgcolor="white", plot_bgcolor="rgba(0,0,0,0)",
    template="none", barmode="overlay",
    font=dict(family=FONT, color=INK, size=18),
    xaxis=dict(AX, domain=[fx(128), fx(478)], range=A_XR, anchor="y",
               tickvals=[-0.4, -0.2, 0.0, 0.2, 0.4, 0.6], tickformat=".1f"),
    yaxis=dict(AX, domain=main_y_dom, range=YR, anchor="x", tickvals=YTICKS, tickformat=".1f"),
    xaxis2=dict(AX, domain=[fx(128), fx(478)], range=A_XR, anchor="y2",
                tickvals=[-0.4, -0.2, 0.0, 0.2, 0.4, 0.6], showticklabels=False, ticklen=10),
    yaxis2=dict(domain=top_y_dom, range=[0, 82], anchor="x2", visible=False),
    xaxis3=dict(AX, domain=[fx(567), fx(916)], range=B_XR, anchor="y3",
                tickvals=[0.0, 0.2, 0.4, 0.6], tickformat=".1f"),
    yaxis3=dict(AX, domain=main_y_dom, range=YR, anchor="x3", tickvals=YTICKS, showticklabels=False),
    xaxis4=dict(AX, domain=[fx(567), fx(916)], range=B_XR, anchor="y4",
                tickvals=[0.0, 0.2, 0.4, 0.6], showticklabels=False, ticklen=10),
    yaxis4=dict(domain=top_y_dom, range=[0, 82], anchor="x4", visible=False),
    xaxis5=dict(domain=[fx(930), 1.0], range=[0, 60], anchor="y5", visible=False),
    yaxis5=dict(AX, domain=main_y_dom, range=YR, anchor="x5", tickvals=YTICKS, showticklabels=False,
                ticklen=10),
    xaxis6=dict(AX, domain=[fx(115), fx(988)], range=[-0.5, len(COMPOUNDS) - 0.5], anchor="y6",
                tickvals=idx, ticktext=COMPOUNDS, tickangle=-90, mirror=True, ticklabeloverflow="allow",
                tickfont=dict(family=FONT, size=21, color=INK)),
    yaxis6=dict(AX, domain=[fy(752), fy(576)], range=[-1.547, 1.774], anchor="x6",
                tickvals=[-1, 0, 1], mirror=True),
    legend=dict(x=fx(138), y=fy(117), xanchor="left", yanchor="top", bgcolor="white",
                bordercolor="#cfcfcf", borderwidth=1, font=dict(family=FONT, size=18, color=INK),
                itemwidth=48, tracegroupgap=2),
    legend2=dict(x=fx(781), y=fy(117), xanchor="left", yanchor="top", bgcolor="white",
                 bordercolor="#cfcfcf", borderwidth=1, font=dict(family=FONT, size=18, color=INK),
                 itemwidth=48, tracegroupgap=2),
)

shapes = []
# dashed reference lines (panel a and b)
for xr, yr in (("x", "y"), ("x3", "y3")):
    shapes.append(dict(type="line", xref=xr, yref=yr + " domain", x0=0, x1=0, y0=0, y1=1,
                       line=dict(color=DASH, width=1.8, dash="9px,6px"), layer="below"))
    shapes.append(dict(type="line", xref=xr + " domain", yref=yr, x0=0, x1=1, y0=0, y1=0,
                       line=dict(color=DASH, width=1.8, dash="9px,6px"), layer="below"))
# panel c backgrounds
shapes.append(dict(type="rect", xref="x6", yref="y6 domain", x0=-0.5, x1=N_CLOSED_TARGETS - 0.5, y0=0, y1=1,
                   fillcolor="rgb(236,243,235)", line=dict(width=0), layer="below"))
shapes.append(dict(type="rect", xref="x6", yref="y6 domain", x0=N_CLOSED_TARGETS - 0.5,
                   x1=len(COMPOUNDS) - 0.5, y0=0, y1=1,
                   fillcolor="rgb(246,239,248)", line=dict(width=0), layer="below"))
shapes.append(dict(type="line", xref="x6", yref="y6 domain", x0=N_CLOSED_TARGETS - 0.5,
                   x1=N_CLOSED_TARGETS - 0.5, y0=0, y1=1, line=dict(color="rgb(205,205,205)", width=1),
                   layer="below"))
shapes.append(dict(type="line", xref="x6 domain", yref="y6", x0=0, x1=1, y0=0, y1=0,
                   line=dict(color="rgba(150,150,150,0.6)", width=1), layer="below"))
fig.update_layout(shapes=shapes)

ann = [
    dict(text="<b>a</b>", x=fx(18), y=fy(30), font=dict(size=27)),
    dict(text="<b>b</b>", x=fx(518), y=fy(30), font=dict(size=27)),
    dict(text="<b>c</b>", x=fx(18), y=fy(553), font=dict(size=27)),
    dict(text="Reaction energy (eV/atom)", x=fx(55), y=fy(280), textangle=-90, font=dict(size=23)),
    dict(text="Primary Competition, <i>C</i><sub>1</sub> (eV/atom)", x=fx(298), y=fy(514),
         font=dict(size=23)),
    dict(text="Secondary Competition, <i>C</i><sub>2</sub> (eV/atom)", x=fx(742), y=fy(514),
         font=dict(size=23)),
    dict(text="Median Cost, Γ<sub><i>t</i></sub><br>(transformed)", x=fx(61), y=fy(655), textangle=-90,
         font=dict(size=21)),
]
for a in ann:
    a.update(xref="paper", yref="paper", showarrow=False, xanchor="center", yanchor="middle")
    a["font"] = dict(family=FONT, color=INK, **a["font"])
fig.update_layout(annotations=ann)

fig.write_html("out.html", config={"displayModeBar": False},
               post_script="document.body.style.margin='0px';document.body.style.overflow='hidden';")
